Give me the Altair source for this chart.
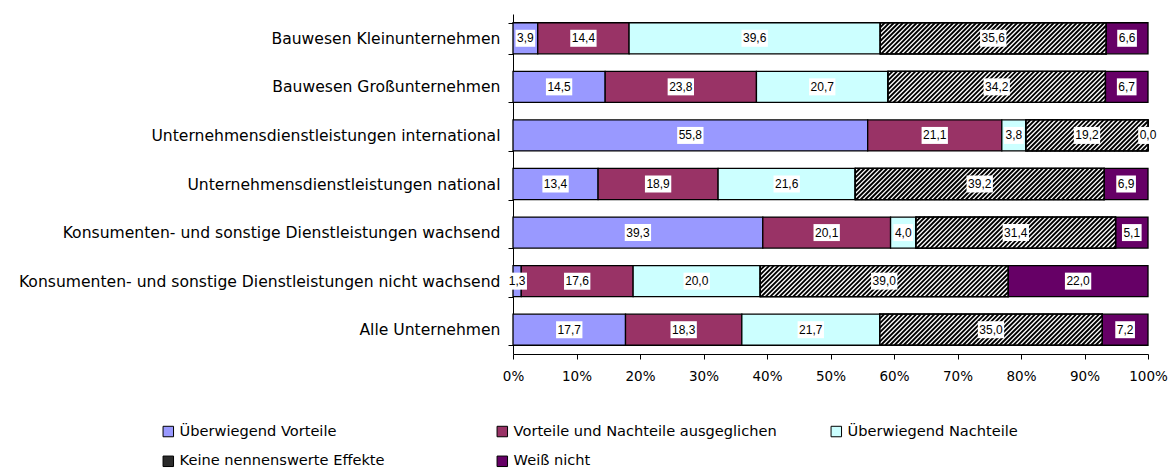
import altair as alt
import pandas as pd

# Survey categories, top to bottom
categories = [
    "Bauwesen Kleinunternehmen",
    "Bauwesen Großunternehmen",
    "Unternehmensdienstleistungen international",
    "Unternehmensdienstleistungen national",
    "Konsumenten- und sonstige Dienstleistungen wachsend",
    "Konsumenten- und sonstige Dienstleistungen nicht wachsend",
    "Alle Unternehmen",
]

series = [
    "Überwiegend Vorteile",
    "Vorteile und Nachteile ausgeglichen",
    "Überwiegend Nachteile",
    "Keine nennenswerte Effekte",
    "Weiß nicht",
]
colors = ["#9999FF", "#993366", "#CCFFFF", "#2b2b2b", "#660066"]

# Shares in percent per category (same order as categories)
v_vorteile = [3.9, 14.5, 55.8, 13.4, 39.3, 1.3, 17.7]
v_ausgeglichen = [14.4, 23.8, 21.1, 18.9, 20.1, 17.6, 18.3]
v_nachteile = [39.6, 20.7, 3.8, 21.6, 4.0, 20.0, 21.7]
v_keine = [35.6, 34.2, 19.2, 39.2, 31.4, 39.0, 35.0]
v_weiss = [6.6, 6.7, 0.0, 6.9, 5.1, 22.0, 7.2]

values = [v_vorteile, v_ausgeglichen, v_nachteile, v_keine, v_weiss]

rows = []
for s_i, (name, vals) in enumerate(zip(series, values)):
    for c_i, (cat, v) in enumerate(zip(categories, vals)):
        rows.append({"cat": cat, "idx": c_i, "series": name, "order": s_i, "value": v})
df = pd.DataFrame(rows)

FONT = "DejaVu Sans"
LABEL_FONT = "Liberation Sans"
PX_PER_PCT = 6.35          # plot width 635 px for 0..100 %
BAR_FRAC = 0.64            # bar height as a fraction of the band step
STEP = 0.72                # hatch period in percent units
SLANT = 4.9                # horizontal run of a hatch line across the bar

base = (
    alt.Chart(df)
    .transform_joinaggregate(total="sum(value)", groupby=["cat"])
    .transform_window(
        cum="sum(value)", sort=[alt.SortField("order")], groupby=["cat"], frame=[None, 0]
    )
    .transform_calculate(x0="(datum.cum - datum.value) / datum.total * 100")
    .transform_calculate(x1="datum.cum / datum.total * 100")
    .transform_calculate(mid="(datum.x0 + datum.x1) / 2")
    .transform_calculate(label="replace(format(datum.value, '.1f'), '.', ',')")
)

xscale = alt.Scale(domain=[0, 100], nice=False, zero=True)
xaxis = alt.Axis(
    values=list(range(0, 101, 10)),
    labelExpr="datum.value + '%'",
    grid=False,
    tickSize=5,
    labelPadding=10,
    labelFontSize=13.5,
    labelFlush=False,
    title=None,
)

yscale = alt.Scale(paddingInner=1 - BAR_FRAC, paddingOuter=(1 - BAR_FRAC) / 2)
y_enc = alt.Y(
    "cat:N",
    sort=categories,
    title=None,
    scale=yscale,
    axis=alt.Axis(
        tickBand="extent",
        tickSize=5,
        labelPadding=8,
        labelFontSize=15.6,
        labelLimit=600,
        grid=False,
    ),
)
y_plain = alt.Y("cat:N", sort=categories, title=None, scale=yscale, axis=None)

bars = base.mark_bar(stroke="black", strokeWidth=1.3).encode(
    x=alt.X("x0:Q", scale=xscale, axis=xaxis, title=None),
    x2="x1:Q",
    y=y_enc,
    color=alt.Color(
        "series:N",
        scale=alt.Scale(domain=series, range=colors),
        legend=alt.Legend(
            title=None,
            orient="none",
            legendX=-352,
            legendY=410,
            direction="horizontal",
            columns=3,
            gridAlign="all",
            columnPadding=52,
            rowPadding=14,
            symbolType="square",
            symbolSize=110,
            symbolStrokeColor="black",
            symbolStrokeWidth=1,
            labelFontSize=14.6,
            labelOffset=4,
            labelLimit=500,
            padding=0,
        ),
    ),
)

keine = base.transform_filter(alt.datum.series == series[3])

hatch_bg = keine.mark_bar(fill="white", stroke="black", strokeWidth=1.3).encode(
    x=alt.X("x0:Q", scale=xscale, axis=xaxis, title=None), x2="x1:Q", y=y_enc
)
hatch_outline = keine.mark_bar(filled=False, stroke="black", strokeWidth=1.3).encode(
    x=alt.X("x0:Q", scale=xscale, axis=xaxis, title=None), x2="x1:Q", y=y_plain
)

# Label boxes sized from the label's character count
boxes = (
    base.transform_calculate(
        hw=f"((length(datum.label) - 1) * 6.67 + 3.33 + 3) / 2 / {PX_PER_PCT}"
    )
    .transform_calculate(lx0="datum.mid - datum.hw", lx1="datum.mid + datum.hw")
    .mark_bar(height=17, fill="white")
    .encode(x=alt.X("lx0:Q", scale=xscale, axis=xaxis, title=None), x2="lx1:Q", y=y_plain)
)

texts = base.mark_text(font=LABEL_FONT, fontSize=12, color="black", baseline="middle").encode(
    x=alt.X("mid:Q", scale=xscale, axis=xaxis, title=None), y=y_plain, text="label:N"
)

main = alt.layer(bars, hatch_bg)

# Diagonal hatch lines clipped to each "Keine nennenswerte Effekte" segment
H = BAR_FRAC
hatch = (
    keine.transform_calculate(n=f"ceil((datum.x1 - datum.x0 + {SLANT}) / {STEP})")
    .transform_calculate(k="sequence(0, datum.n + 1)")
    .transform_flatten(["k"])
    .transform_calculate(xb=f"datum.x0 - {SLANT} + datum.k * {STEP}")
    .transform_calculate(xt=f"datum.xb + {SLANT}")
    .transform_filter("datum.xt > datum.x0 && datum.xb < datum.x1")
    .transform_calculate(t0=f"max(0, (datum.x0 - datum.xb) / {SLANT})")
    .transform_calculate(t1=f"min(1, (datum.x1 - datum.xb) / {SLANT})")
    .transform_calculate(xbot=f"datum.xb + datum.t0 * {SLANT}")
    .transform_calculate(xtop=f"datum.xb + datum.t1 * {SLANT}")
    .transform_calculate(ybot=f"datum.idx + {H / 2} - datum.t0 * {H}")
    .transform_calculate(ytop=f"datum.idx + {H / 2} - datum.t1 * {H}")
    .mark_rule(color="black", strokeWidth=1.9, strokeCap="butt")
    .encode(
        x=alt.X("xbot:Q", scale=xscale, axis=xaxis, title=None),
        x2="xtop:Q",
        y=alt.Y(
            "ybot:Q",
            scale=alt.Scale(domain=[-0.5, len(categories) - 0.5], reverse=True, nice=False, zero=False),
            axis=None,
        ),
        y2="ytop:Q",
    )
)

top = alt.layer(hatch_outline, boxes, texts)

chart = (
    alt.layer(main, hatch, top)
    .resolve_scale(y="independent")
    .properties(
        width=635,
        height=340,
        padding={"left": 513, "top": 14, "right": 22, "bottom": 116},
        autosize=alt.AutoSizeParams(type="none"),
    )
    .configure_view(stroke=None)
    .configure_axis(
        domainColor="black",
        tickColor="black",
        labelColor="black",
        labelFont=FONT,
        domainWidth=1,
        tickWidth=1,
    )
    .configure_legend(labelFont=FONT, labelColor="black")
)

chart.save("out.html", embed_options={"renderer": "svg", "actions": False})
